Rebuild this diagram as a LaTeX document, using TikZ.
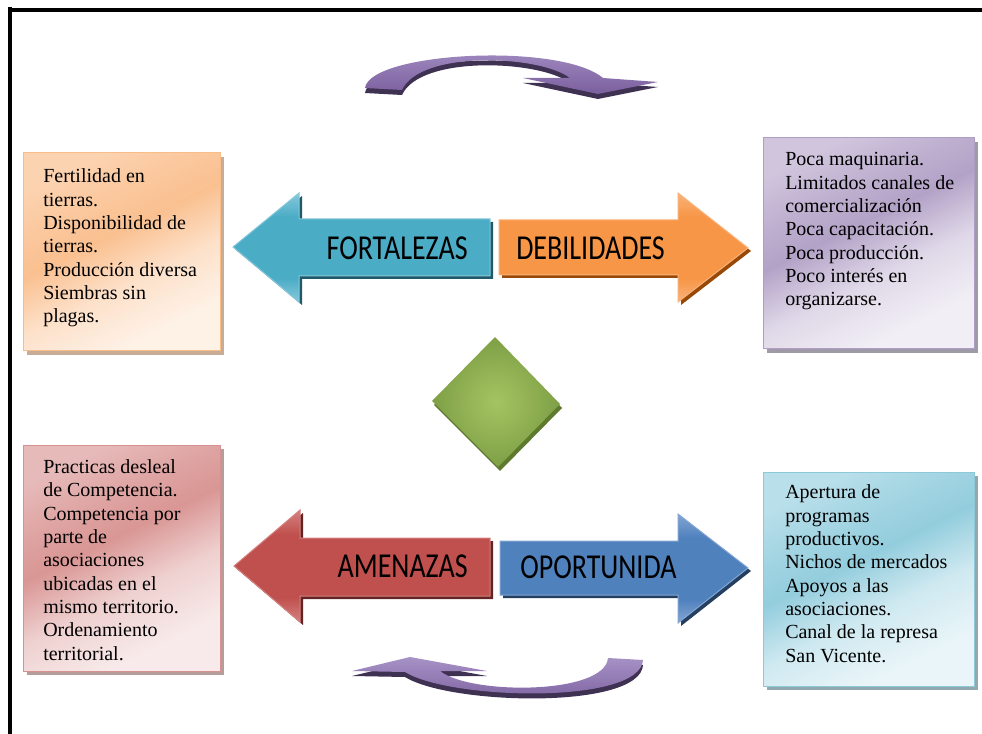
\documentclass[tikz,border=0pt]{standalone}
\usepackage{fontspec}
\setmainfont{Liberation Serif}
\newfontfamily\labelfont{Carlito}
\usetikzlibrary{fit,shadows}

% arrow colours
\definecolor{tealmain}{HTML}{4BACC6}
\definecolor{teallight}{HTML}{86C8DB}
\definecolor{tealdark}{HTML}{215968}
\definecolor{orgmain}{HTML}{F79646}
\definecolor{orglight}{HTML}{F9B27A}
\definecolor{orgdark}{HTML}{984807}
\definecolor{redmain}{HTML}{C0504D}
\definecolor{redlight}{HTML}{D4817F}
\definecolor{reddark}{HTML}{632523}
\definecolor{bluemain}{HTML}{4F81BD}
\definecolor{bluelight}{HTML}{83A5D3}
\definecolor{bluedark}{HTML}{243F60}
\definecolor{purmain}{HTML}{7B5F9E}
\definecolor{purlight}{HTML}{A792C6}
\definecolor{purdark}{HTML}{3F3151}
\definecolor{grnlight}{HTML}{A4C462}
\definecolor{grnmain}{HTML}{7F9F46}
\definecolor{grndark}{HTML}{5E7A2E}

% box colours
\definecolor{orD}{HTML}{FAC090}
\definecolor{orM}{HTML}{FCD3B1}
\definecolor{orL}{HTML}{FEF1E6}
\definecolor{orB}{HTML}{F9BD8A}
\definecolor{orS}{HTML}{C8AC95}
\definecolor{puD}{HTML}{B3A2C7}
\definecolor{puM}{HTML}{D0C5DD}
\definecolor{puL}{HTML}{F1EEF5}
\definecolor{puB}{HTML}{AE9EC4}
\definecolor{puS}{HTML}{9F9AA7}
\definecolor{reD}{HTML}{D99694}
\definecolor{reM}{HTML}{E6BAB9}
\definecolor{reL}{HTML}{F8EAEA}
\definecolor{reB}{HTML}{D69290}
\definecolor{reS}{HTML}{B69C9B}
\definecolor{blD}{HTML}{93CDDD}
\definecolor{blM}{HTML}{B9DFEA}
\definecolor{blL}{HTML}{E9F5F8}
\definecolor{blB}{HTML}{8EC9D9}
\definecolor{blS}{HTML}{90A8B0}

% diagonal shadings for the text boxes
\pgfdeclareverticalshading{orbox}{100bp}{color(0bp)=(orL); color(28bp)=(orL); color(42bp)=(orL!45!orM); color(55bp)=(orD); color(64bp)=(orD!60!orM); color(75bp)=(orM); color(100bp)=(orM)}
\pgfdeclareverticalshading{pubox}{100bp}{color(0bp)=(puL); color(28bp)=(puL); color(42bp)=(puL!45!puM); color(55bp)=(puD); color(64bp)=(puD!60!puM); color(75bp)=(puM); color(100bp)=(puM)}
\pgfdeclareverticalshading{rebox}{100bp}{color(0bp)=(reL); color(28bp)=(reL); color(42bp)=(reL!45!reM); color(55bp)=(reD); color(64bp)=(reD!60!reM); color(75bp)=(reM); color(100bp)=(reM)}
\pgfdeclareverticalshading{blbox}{100bp}{color(0bp)=(blL); color(28bp)=(blL); color(42bp)=(blL!45!blM); color(55bp)=(blD); color(64bp)=(blD!60!blM); color(75bp)=(blM); color(100bp)=(blM)}

% block arrows: saturated body with lighter top and bottom edges
\pgfdeclareverticalshading{tealarrow}{100bp}{color(0bp)=(teallight); color(25bp)=(teallight); color(36bp)=(tealmain); color(64bp)=(tealmain); color(75bp)=(teallight); color(100bp)=(teallight)}
\pgfdeclareverticalshading{orgarrow}{100bp}{color(0bp)=(orglight); color(25bp)=(orglight); color(36bp)=(orgmain); color(64bp)=(orgmain); color(75bp)=(orglight); color(100bp)=(orglight)}
\pgfdeclareverticalshading{redarrow}{100bp}{color(0bp)=(redlight); color(25bp)=(redlight); color(36bp)=(redmain); color(64bp)=(redmain); color(75bp)=(redlight); color(100bp)=(redlight)}
\pgfdeclareverticalshading{bluearrow}{100bp}{color(0bp)=(bluelight); color(25bp)=(bluelight); color(36bp)=(bluemain); color(64bp)=(bluemain); color(75bp)=(bluelight); color(100bp)=(bluelight)}

\tikzset{
  panel/.style={inner sep=0pt, line width=0.75pt, shade, shading angle=26},
  boxtext/.style={inner sep=0pt, align=left, anchor=base west, font=\fontsize{15}{17.5}\selectfont},
  lbl/.style={inner sep=0pt, font=\labelfont\fontsize{21}{25}\selectfont},
  bigarrow/.style={line width=0.75pt, shade, shading=#1arrow, draw=#1light},
  arrowshadow/.style={fill=#1dark, shift={(3,3)}},
  curvearrow/.style={top color=purlight, bottom color=purmain},
}

\begin{document}
\begin{tikzpicture}[x=0.75pt, y=-0.75pt]
\useasboundingbox (0,0) rectangle (982,734);
\fill[white] (0,0) rectangle (982,734);

% page frame
\draw[line width=3pt] (10.3,6.7) -- (10.3,734);
\draw[line width=2.5pt] (8.3,10) -- (982,10);

% curved arrow above
\fill[purdark, shift={(0,5)}] (365,88) .. controls (370,52) and (560,42) .. (603,78) -- (658,82) -- (598,94) -- (523,78) -- (570,78) .. controls (540,55) and (420,50) .. (402,90) -- cycle;
\shade[curvearrow] (365,88) .. controls (370,52) and (560,42) .. (603,78) -- (658,82) -- (598,94) -- (523,78) -- (570,78) .. controls (540,55) and (420,50) .. (402,90) -- cycle;

% curved arrow below
\fill[purdark, shift={(0,5)}] (608,658) .. controls (605,695) and (470,695) .. (440,671) -- (487,671) -- (410,657) -- (352,671) -- (405,672) .. controls (450,700) and (640,705) .. (643,660) -- cycle;
\shade[curvearrow] (608,658) .. controls (605,695) and (470,695) .. (440,671) -- (487,671) -- (410,657) -- (352,671) -- (405,672) .. controls (450,700) and (640,705) .. (643,660) -- cycle;

% text boxes
\node (fbox) [panel, fit={(23,153) (220,351)}, draw=orB, shading=orbox,
  general shadow={fill=orS, shadow xshift=3pt, shadow yshift=-3pt}] {};
\node (dbox) [panel, fit={(763,138) (974,349)}, draw=puB, shading=pubox,
  general shadow={fill=puS, shadow xshift=3pt, shadow yshift=-3pt}] {};
\node (abox) [panel, fit={(23,445) (220,671)}, draw=reB, shading=rebox,
  general shadow={fill=reS, shadow xshift=3pt, shadow yshift=-3pt}] {};
\node (obox) [panel, fit={(763,472) (974,686)}, draw=blB, shading=blbox,
  general shadow={fill=blS, shadow xshift=3pt, shadow yshift=-3pt}] {};

% the base anchor sits on the last line of each list
\node (ftxt) [boxtext] at (43,323) {Fertilidad en\\tierras.\\Disponibilidad de\\tierras.\\Producción diversa\\Siembras sin\\plagas.};
\node (dtxt) [boxtext] at (785,306) {Poca maquinaria.\\Limitados canales de\\comercialización\\Poca capacitación.\\Poca producción.\\Poco interés en\\organizarse.};
\node (atxt) [boxtext] at (43,660) {Practicas desleal\\de Competencia.\\Competencia por\\parte de\\asociaciones\\ubicadas en el\\mismo territorio.\\Ordenamiento\\territorial.};
\node (otxt) [boxtext] at (785,662) {Apertura de\\programas\\productivos.\\Nichos de mercados\\Apoyos a las\\asociaciones.\\Canal de la represa\\San Vicente.};

% upper pair of block arrows
\fill[arrowshadow=teal] (233,247) -- (299,193) -- (299,219) -- (490,219) -- (490,276) -- (299,276) -- (299,302) -- cycle;
\path[bigarrow=teal] (233,247) -- (299,193) -- (299,219) -- (490,219) -- (490,276) -- (299,276) -- (299,302) -- cycle;
\fill[arrowshadow=org] (499,220) -- (678,220) -- (678,193) -- (748,248) -- (678,302) -- (678,275) -- (499,275) -- cycle;
\path[bigarrow=org] (499,220) -- (678,220) -- (678,193) -- (748,248) -- (678,302) -- (678,275) -- (499,275) -- cycle;

% lower pair of block arrows
\fill[arrowshadow=red] (234,566) -- (300,510) -- (300,538) -- (490,538) -- (490,596) -- (300,596) -- (300,622) -- cycle;
\path[bigarrow=red] (234,566) -- (300,510) -- (300,538) -- (490,538) -- (490,596) -- (300,596) -- (300,622) -- cycle;
\fill[arrowshadow=blue] (500,541) -- (678,541) -- (678,514) -- (748,568) -- (678,623) -- (678,595) -- (500,595) -- cycle;
\path[bigarrow=blue] (500,541) -- (678,541) -- (678,514) -- (748,568) -- (678,623) -- (678,595) -- (500,595) -- cycle;

\node (fort) [lbl, anchor=east] at (468,248) {\scalebox{1}[1.25]{FORTALEZAS}};
\node (debi) [lbl, anchor=west] at (516,248) {\scalebox{1}[1.25]{DEBILIDADES}};
\node (amen) [lbl, anchor=east] at (468,566) {\scalebox{1}[1.25]{AMENAZAS}};
\node (opor) [lbl, anchor=west] at (520,567) {\scalebox{1}[1.25]{OPORTUNIDA}};

% centre diamond
\fill[grndark, shift={(2,4)}] (495,337) -- (560,404) -- (498,467) -- (432,401) -- cycle;
\shade[inner color=grnlight, outer color=grnmain] (495,337) -- (560,404) -- (498,467) -- (432,401) -- cycle;
\end{tikzpicture}
\end{document}
